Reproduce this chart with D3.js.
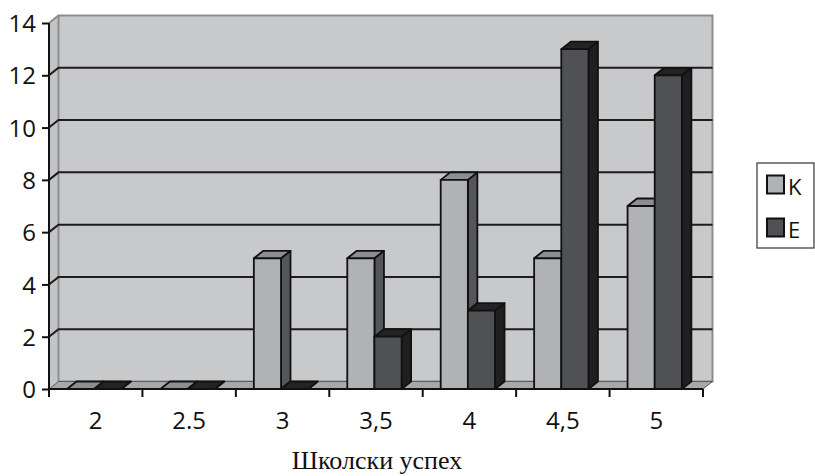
<!DOCTYPE html>
<html>
<head>
<meta charset="utf-8">
<script src="https://cdn.jsdelivr.net/npm/d3@7"></script>
<style>
  html, body { margin: 0; padding: 0; background: #fff; }
  svg { display: block; }
</style>
</head>
<body>
<svg id="chart" width="815" height="476"></svg>
<script>
// School success grades and counts for the two groups
const categories = ["2", "2.5", "3", "3,5", "4", "4,5", "5"];
const seriesNames = ["K", "E"];
const valuesK = [0, 0, 5, 5, 8, 5, 7];
const valuesE = [0, 0, 0, 2, 3, 13, 12];
const yTicks = [0, 2, 4, 6, 8, 10, 12, 14];
const xTitle = "Школски успех";

(function () {
const svg = d3.select("#chart");

// Front plane of the plot and the 3D depth offset
const plotLeft = 49, plotRight = 703, plotBottom = 389, plotTop = 23;
const dx = 9.5, dy = -7.5;

const x = d3.scaleBand().domain(categories).range([plotLeft, plotRight]).padding(0);
const xs = d3.scaleBand().domain(seriesNames).range([0, x.bandwidth()])
  .paddingInner(0).paddingOuter(0.72).align(0.46);
const y = d3.scaleLinear().domain([0, 14]).range([plotBottom, plotTop]);

const colors = {
  K: { front: "#b1b2b4", top: "#8d8e90", side: "#55565a" },
  E: { front: "#505154", top: "#232323", side: "#1f1f1f" }
};

const line = d3.line();

// Side wall
svg.append("path")
  .attr("d", line([[plotLeft, plotBottom], [plotLeft + dx, plotBottom + dy], [plotLeft + dx, plotTop + dy], [plotLeft, plotTop]]) + "Z")
  .attr("fill", "#c3c4c6").attr("stroke", "none");

// Back wall
svg.append("rect")
  .attr("x", plotLeft + dx).attr("y", plotTop + dy)
  .attr("width", plotRight - plotLeft).attr("height", plotBottom - plotTop)
  .attr("fill", "#c8c9cb").attr("stroke", "#8c8d8f").attr("stroke-width", 2);

// Top edge of the side wall
svg.append("path")
  .attr("d", line([[plotLeft, plotTop], [plotLeft + dx, plotTop + dy]]))
  .attr("stroke", "#8c8d8f").attr("stroke-width", 2).attr("fill", "none");

// Gridlines on the back and side walls
const grid = yTicks.filter(v => v > 0 && v < 14);
svg.append("g").selectAll("path").data(grid).join("path")
  .attr("d", v => line([[plotLeft, y(v)], [plotLeft + dx, y(v) + dy], [plotRight + dx, y(v) + dy]]))
  .attr("fill", "none").attr("stroke", "#1c1c1c").attr("stroke-width", 2);

// Floor
svg.append("path")
  .attr("d", line([[plotLeft, plotBottom], [plotRight, plotBottom], [plotRight + dx, plotBottom + dy], [plotLeft + dx, plotBottom + dy]]) + "Z")
  .attr("fill", "#a7a8aa").attr("stroke", "#5a5a5a").attr("stroke-width", 1);

// 3D columns
const rows = [];
categories.forEach((c, i) => {
  rows.push({ cat: c, s: "K", v: valuesK[i] });
  rows.push({ cat: c, s: "E", v: valuesE[i] });
});

const bars = svg.append("g");
rows.forEach(d => {
  const x0 = x(d.cat) + xs(d.s);
  const x1 = x0 + xs.bandwidth();
  const y0 = y(0), y1 = y(d.v);
  const g = bars.append("g")
    .attr("stroke", "#111").attr("stroke-width", 1.8).attr("stroke-linejoin", "round");
  // side face
  g.append("path")
    .attr("d", line([[x1, y0], [x1 + dx, y0 + dy], [x1 + dx, y1 + dy], [x1, y1]]) + "Z")
    .attr("fill", colors[d.s].side);
  // top face
  g.append("path")
    .attr("d", line([[x0, y1], [x1, y1], [x1 + dx, y1 + dy], [x0 + dx, y1 + dy]]) + "Z")
    .attr("fill", colors[d.s].top);
  // front face
  if (d.v > 0) {
    g.append("rect")
      .attr("x", x0).attr("y", y1).attr("width", x1 - x0).attr("height", y0 - y1)
      .attr("fill", colors[d.s].front);
  }
});

// Axes
const font = "'Open Sans', 'Noto Sans', sans-serif";

const yAxis = svg.append("g").attr("transform", `translate(${plotLeft},0)`)
  .call(d3.axisLeft(y).tickValues(yTicks).tickSize(7).tickPadding(6).tickFormat(d3.format("d")));
yAxis.select(".domain").attr("d", `M0,${plotTop}V${plotBottom}`).attr("stroke", "#111").attr("stroke-width", 2);
yAxis.selectAll(".tick line").attr("stroke", "#111").attr("stroke-width", 2);
yAxis.selectAll(".tick text")
  .attr("font-family", font).attr("font-size", 24).attr("fill", "#111").attr("dy", "0.36em");

const xAxis = svg.append("g").attr("transform", `translate(0,${plotBottom})`)
  .call(d3.axisBottom(x).tickSize(0).tickPadding(23));
xAxis.select(".domain").attr("d", `M${plotLeft},0H${plotRight}`).attr("stroke", "#111").attr("stroke-width", 2);
xAxis.selectAll(".tick text")
  .attr("font-family", font).attr("font-size", 24).attr("fill", "#111").attr("dy", "0.71em");

// Category boundary ticks
const bounds = categories.map(c => x(c)).concat([plotRight]);
xAxis.append("g").selectAll("line").data(bounds).join("line")
  .attr("x1", d => d).attr("x2", d => d).attr("y1", 0).attr("y2", 8)
  .attr("stroke", "#111").attr("stroke-width", 2);

// Axis title
svg.append("text")
  .attr("x", 377).attr("y", 469)
  .attr("text-anchor", "middle")
  .attr("font-family", "'Liberation Serif', 'DejaVu Serif', serif")
  .attr("font-size", 26).attr("fill", "#111")
  .text(xTitle);

// Legend
const legend = svg.append("g");
legend.append("rect")
  .attr("x", 757).attr("y", 163).attr("width", 57).attr("height", 85)
  .attr("fill", "#fff").attr("stroke", "#333").attr("stroke-width", 1.2);
const ly = d3.scalePoint().domain(seriesNames).range([184.5, 227.5]);
seriesNames.forEach(s => {
  legend.append("rect")
    .attr("x", 767).attr("y", ly(s) - 9).attr("width", 17).attr("height", 18)
    .attr("fill", colors[s].front).attr("stroke", "#111").attr("stroke-width", 2);
  legend.append("text")
    .attr("x", 788).attr("y", ly(s) + 10.5)
    .attr("font-family", font).attr("font-size", 22).attr("fill", "#111")
    .text(s);
});
})();
</script>
</body>
</html>
